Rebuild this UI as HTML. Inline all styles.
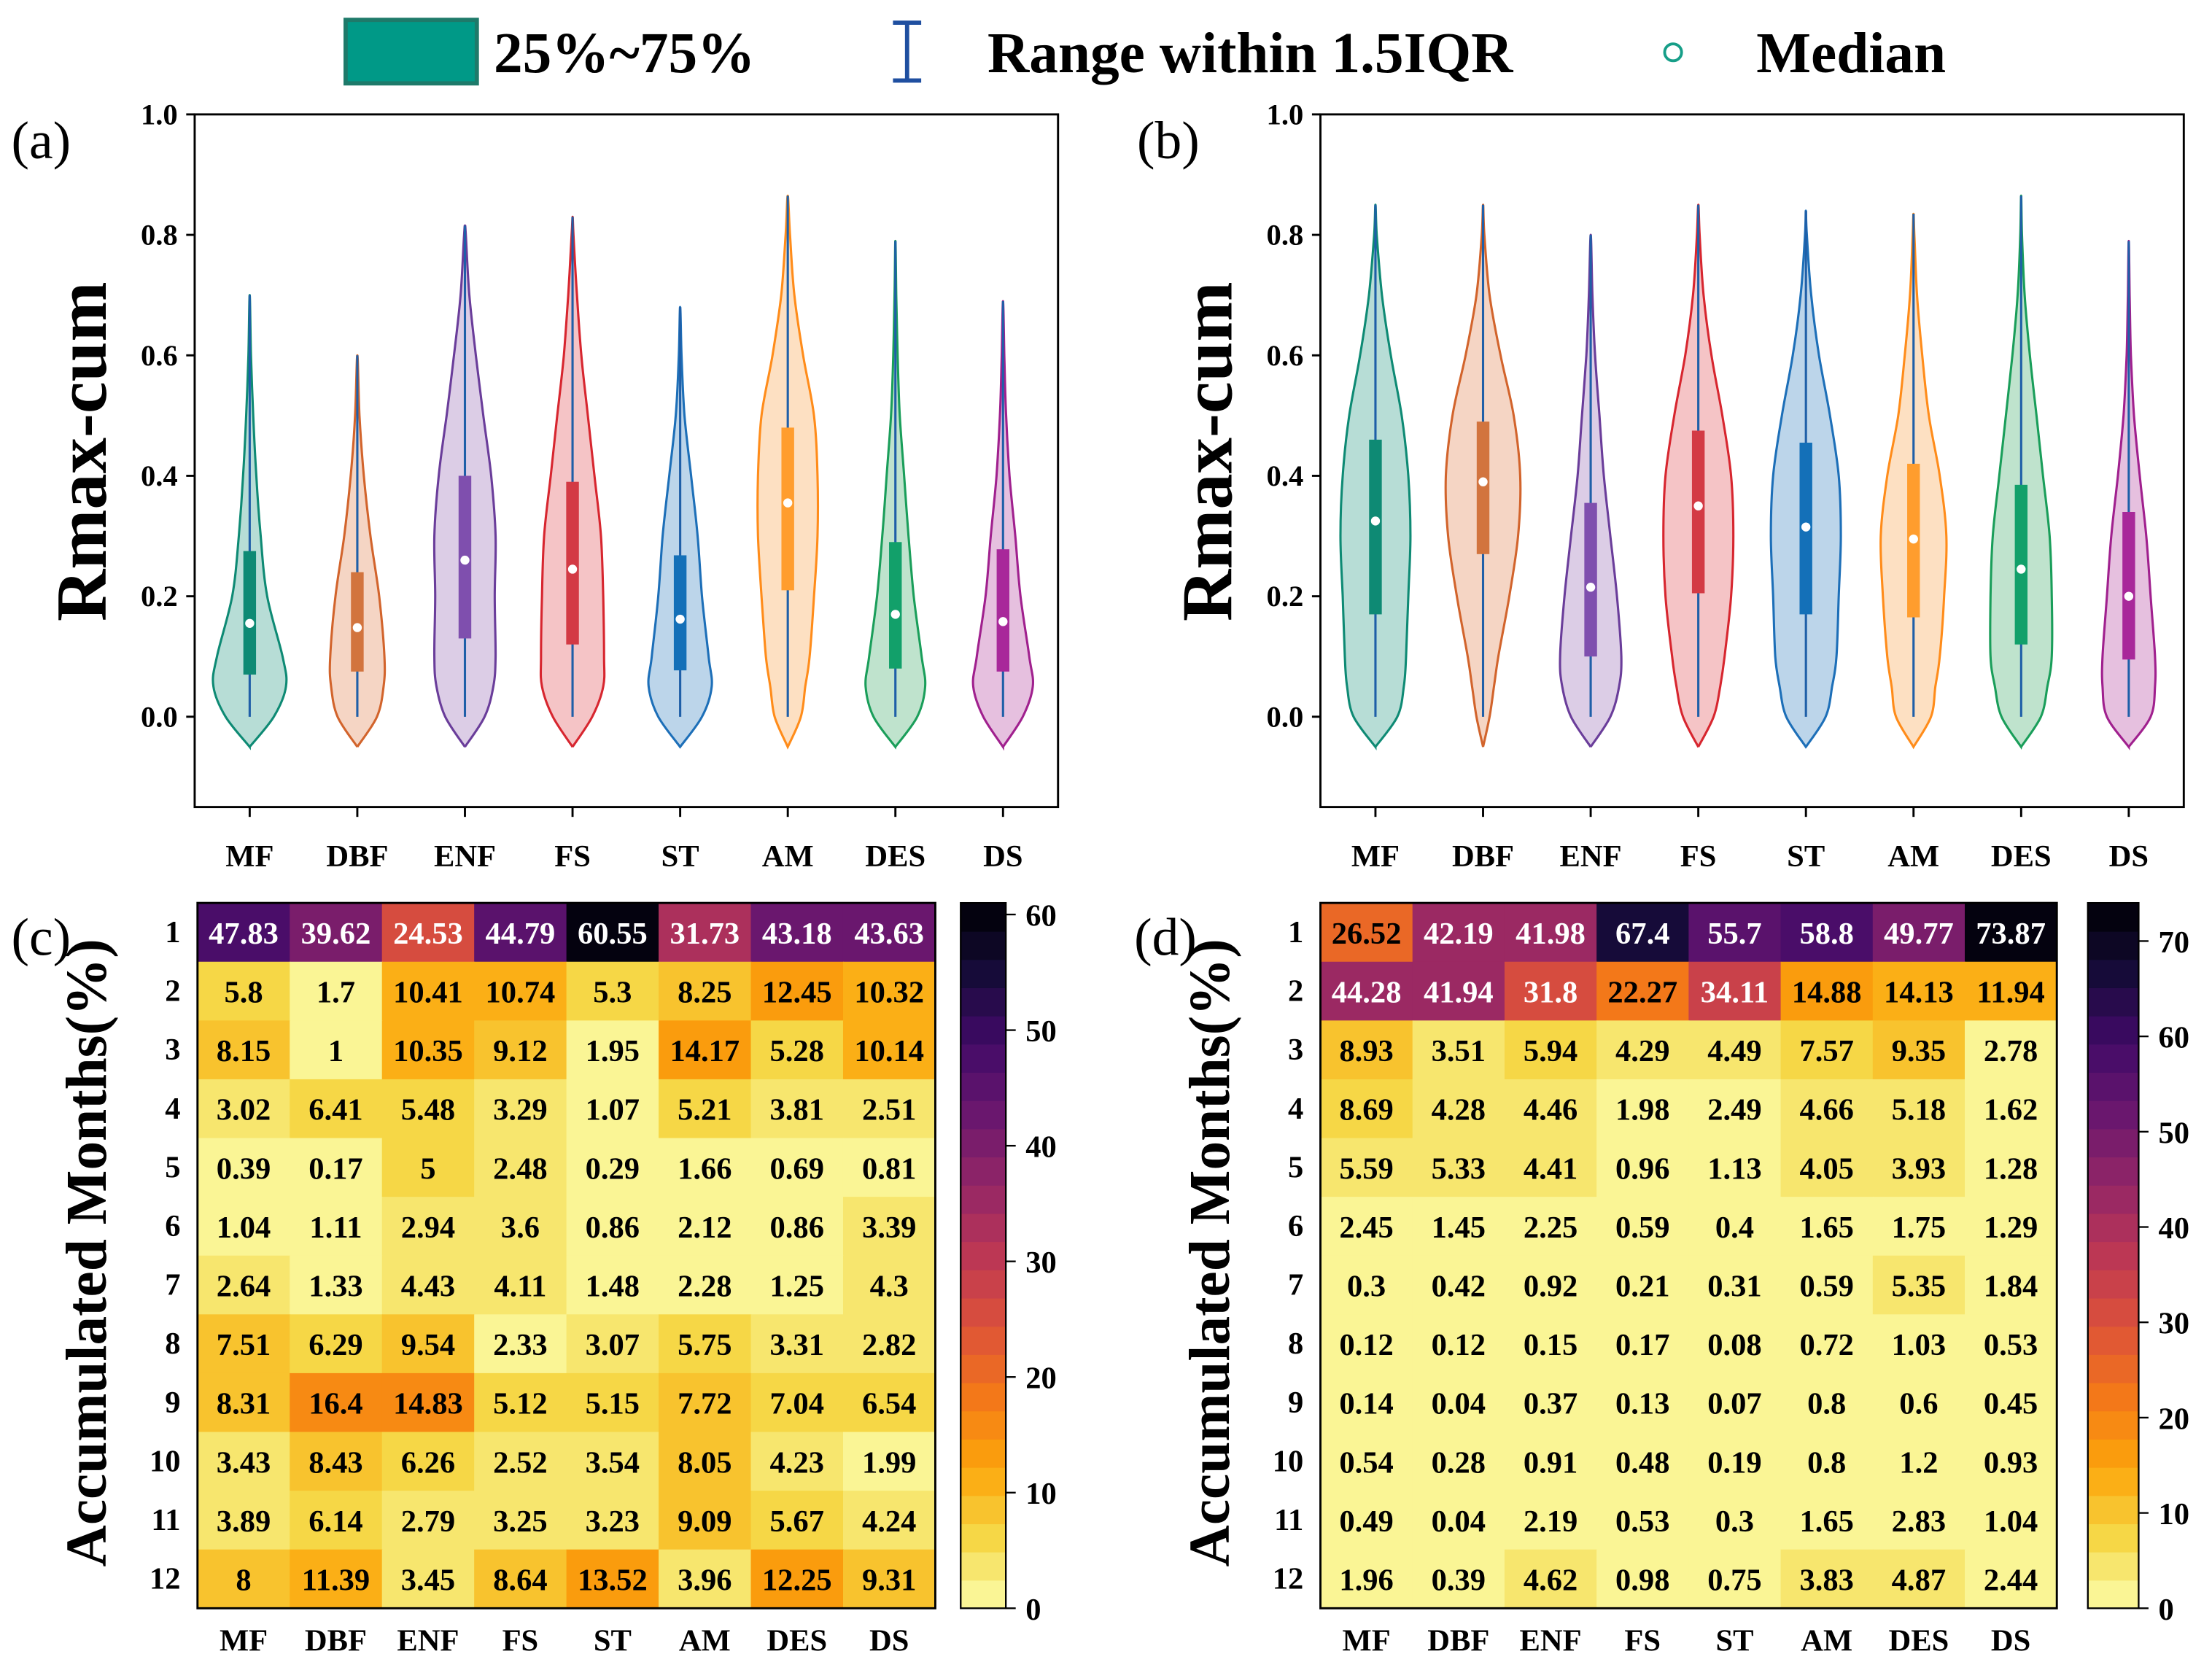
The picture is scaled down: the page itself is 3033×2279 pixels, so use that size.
<!DOCTYPE html>
<html><head><meta charset="utf-8"><style>
html,body{margin:0;padding:0;background:#fff;}
svg{display:block;font-family:"Liberation Serif","DejaVu Serif",serif;}
</style></head><body>
<svg id="fig" width="3033" height="2279" viewBox="0 0 1568 1178" xmlns="http://www.w3.org/2000/svg">
<g>
 <rect x="245" y="14" width="93" height="45" fill="#009987" stroke="#1e7a6a" stroke-width="3"/>
 <text x="350" y="51" font-size="41" font-weight="bold">25%~75%</text>
 <g stroke="#1f4fa0" stroke-width="3"><line x1="643" y1="16" x2="643" y2="57"/><line x1="633" y1="16" x2="653" y2="16"/><line x1="633" y1="57" x2="653" y2="57"/></g>
 <text x="700" y="51" font-size="41" font-weight="bold">Range within 1.5IQR</text>
 <circle cx="1186" cy="37" r="6" fill="#fff" stroke="#169e88" stroke-width="2"/>
 <text x="1245" y="51" font-size="41" font-weight="bold">Median</text>
</g>
<g id="root"></g>
</svg>
<script>
const categories=["MF","DBF","ENF","FS","ST","AM","DES","DS"];
const levels=[-0.05,0,0.05,0.1,0.2,0.3,0.4,0.5,0.6,0.7,0.8];
// panel (a)
const aDensity=[
[0,.55,.83,.75,.4,.25,.15,.08,.03,.01,0],
[0,.45,.6,.62,.5,.3,.15,.05,0,0,0],
[0,.45,.65,.7,.68,.7,.6,.42,.25,.1,.02],
[0,.45,.7,.72,.7,.65,.5,.35,.2,.1,.02],
[0,.5,.72,.65,.5,.4,.25,.1,.03,0,0],
[0,.3,.4,.5,.6,.68,.68,.6,.35,.15,.05],
[0,.5,.68,.6,.42,.3,.2,.1,.05,.02,.01],
[0,.45,.68,.6,.4,.28,.15,.07,.03,0,0]];
const aMax=[.70,.60,.815,.83,.68,.865,.79,.69];
const aQ1=[.07,.075,.13,.12,.077,.21,.08,.075];
const aMed=[.155,.148,.26,.245,.162,.355,.17,.158];
const aQ3=[.275,.24,.40,.39,.268,.48,.29,.278];
// panel (b)
const bDensity=[
[0,.5,.65,.7,.75,.8,.75,.6,.35,.15,.03],
[0,.15,.25,.35,.6,.8,.85,.7,.4,.15,.03],
[0,.45,.65,.7,.6,.45,.3,.2,.1,.04,.01],
[0,.35,.5,.6,.75,.8,.75,.55,.3,.12,.03],
[0,.45,.6,.7,.75,.8,.75,.55,.3,.12,.02],
[0,.4,.5,.6,.7,.75,.6,.35,.2,.08,.02],
[0,.45,.6,.7,.7,.65,.5,.35,.2,.08,.02],
[0,.5,.6,.6,.5,.4,.25,.12,.05,.02,0]];
const bMax=[.85,.85,.80,.85,.84,.835,.865,.79];
const bQ1=[.17,.27,.10,.205,.17,.165,.12,.095];
const bMed=[.325,.39,.215,.35,.315,.295,.245,.2];
const bQ3=[.46,.49,.355,.475,.455,.42,.385,.34];
const yTicks=[0,0.2,0.4,0.6,0.8,1.0];
// heatmaps
const months=[1,2,3,4,5,6,7,8,9,10,11,12];
const cValues=[
[47.83,39.62,24.53,44.79,60.55,31.73,43.18,43.63],
[5.8,1.7,10.41,10.74,5.3,8.25,12.45,10.32],
[8.15,1,10.35,9.12,1.95,14.17,5.28,10.14],
[3.02,6.41,5.48,3.29,1.07,5.21,3.81,2.51],
[0.39,0.17,5,2.48,0.29,1.66,0.69,0.81],
[1.04,1.11,2.94,3.6,0.86,2.12,0.86,3.39],
[2.64,1.33,4.43,4.11,1.48,2.28,1.25,4.3],
[7.51,6.29,9.54,2.33,3.07,5.75,3.31,2.82],
[8.31,16.4,14.83,5.12,5.15,7.72,7.04,6.54],
[3.43,8.43,6.26,2.52,3.54,8.05,4.23,1.99],
[3.89,6.14,2.79,3.25,3.23,9.09,5.67,4.24],
[8,11.39,3.45,8.64,13.52,3.96,12.25,9.31]];
const dValues=[
[26.52,42.19,41.98,67.4,55.7,58.8,49.77,73.87],
[44.28,41.94,31.8,22.27,34.11,14.88,14.13,11.94],
[8.93,3.51,5.94,4.29,4.49,7.57,9.35,2.78],
[8.69,4.28,4.46,1.98,2.49,4.66,5.18,1.62],
[5.59,5.33,4.41,0.96,1.13,4.05,3.93,1.28],
[2.45,1.45,2.25,0.59,0.4,1.65,1.75,1.29],
[0.3,0.42,0.92,0.21,0.31,0.59,5.35,1.84],
[0.12,0.12,0.15,0.17,0.08,0.72,1.03,0.53],
[0.14,0.04,0.37,0.13,0.07,0.8,0.6,0.45],
[0.54,0.28,0.91,0.48,0.19,0.8,1.2,0.93],
[0.49,0.04,2.19,0.53,0.3,1.65,2.83,1.04],
[1.96,0.39,4.62,0.98,0.75,3.83,4.87,2.44]];
const cTicks=[0,10,20,30,40,50,60];
const dTicks=[0,10,20,30,40,50,60,70];

const edgeCol=["#0e8a74","#d2642c","#6a3d9a","#d7262f","#1d6fb8","#ff8c1a","#1a9e5a","#a0208e"];
const fillCol=["#b7ddd6","#f5d5c4","#dccde6","#f5c4c6","#bcd5ea","#fde0c2","#bfe3cd","#e6c0df"];
const boxCol=["#0e8a74","#d2743e","#7f4fae","#d33a44","#1470b8","#ff9d2e","#12a06a","#a8289a"];

const NS="http://www.w3.org/2000/svg";
const root=document.getElementById('root');
function mk(tag,attrs,parent){const e=document.createElementNS(NS,tag);for(const k in attrs)e.setAttribute(k,attrs[k]);(parent||root).appendChild(e);return e;}
function txt(s,attrs,parent){const e=mk('text',attrs,parent);e.textContent=s;return e;}

const infernoStops=[[0,[0,0,4]],[.1,[22,11,57]],[.2,[66,10,104]],[.3,[106,23,110]],[.4,[147,38,103]],[.5,[188,55,84]],[.6,[221,81,58]],[.7,[243,120,25]],[.8,[252,165,10]],[.9,[246,215,70]],[.96,[248,238,130]],[1,[252,252,168]]];
function inferno(t){t=Math.max(0,Math.min(1,t));for(let i=1;i<infernoStops.length;i++){if(t<=infernoStops[i][0]){const a=infernoStops[i-1],b=infernoStops[i];const f=(t-a[0])/(b[0]-a[0]);const c=a[1].map((v,j)=>Math.round(v+(b[1][j]-v)*f));return `rgb(${c[0]},${c[1]},${c[2]})`;}}return 'rgb(252,252,168)';}
function heatColor(v,vmax){const n=25;const k=Math.min(n-1,Math.floor(v/vmax*n));return inferno(1-(k+0.5)/n);}

function smoothPath(pts){let d=`M${pts[0][0]},${pts[0][1]}`;for(let i=0;i<pts.length-1;i++){const p0=pts[Math.max(0,i-1)],p1=pts[i],p2=pts[i+1],p3=pts[Math.min(pts.length-1,i+2)];const c1=[p1[0]+(p2[0]-p0[0])/6,p1[1]+(p2[1]-p0[1])/6],c2=[p2[0]-(p3[0]-p1[0])/6,p2[1]-(p3[1]-p1[1])/6];d+=`C${c1[0].toFixed(1)},${c1[1].toFixed(1)} ${c2[0].toFixed(1)},${c2[1].toFixed(1)} ${p2[0].toFixed(1)},${p2[1].toFixed(1)}`;}return d;}

function violinPanel(id,x0,x1,letter,dens,mx,q1,med,q3){
 const y0=81,y1=572;const ys=v=>508-v*427;
 const g=mk('g',{});
 const xs=i=>x0+39+i*((x1-x0-78)/7);
 txt('('+letter+')',{x:x0-130,y:112,'font-size':38,},g);
 mk('rect',{x:x0,y:y0,width:x1-x0,height:y1-y0,fill:'none',stroke:'#000','stroke-width':1.5,},g);
 yTicks.forEach(t=>{mk('line',{x1:x0-6,x2:x0,y1:ys(t),y2:ys(t),stroke:'#000','stroke-width':1.5},g);
  txt(t.toFixed(1),{x:x0-12,y:ys(t)+7,'font-size':21,'font-weight':'bold','text-anchor':'end',},g);});
 txt('Rmax-cum',{x:0,y:0,'font-size':51,'font-weight':'bold','text-anchor':'middle',transform:`translate(${x0-63},320) rotate(-90)`,},g);
 categories.forEach((c,i)=>{const cx=xs(i);
  mk('line',{x1:cx,x2:cx,y1:y1,y2:y1+7,stroke:'#000','stroke-width':1.5},g);
  txt(c,{x:cx,y:y1+42,'font-size':22,'font-weight':'bold','text-anchor':'middle',},g);
  const vg=mk('g',{},g);
  
  
  const right=[];levels.forEach((L,j)=>{if(L<mx[i])right.push([cx+dens[i][j]*31,ys(L)]);});right.push([cx,ys(mx[i])]);
  const left=right.map(p=>[2*cx-p[0],p[1]]).reverse();
  const all=right.concat(left.slice(1));
  mk('path',{d:smoothPath(all)+'Z',fill:fillCol[i],stroke:edgeCol[i],'stroke-width':1.6},vg);
  mk('line',{x1:cx,x2:cx,y1:ys(0),y2:ys(mx[i]),stroke:'#1f5fa8','stroke-width':1.6},vg);
  const b=mk('rect',{x:cx-4.5,y:ys(q3[i]),width:9,height:ys(q1[i])-ys(q3[i]),fill:boxCol[i]},vg);
  
  
  const m=mk('circle',{cx:cx,cy:ys(med[i]),r:3.2,fill:'#fff'},vg);
  
  
 });
}
violinPanel('a',138,750,'a',aDensity,aMax,aQ1,aMed,aQ3);
violinPanel('b',936,1548,'b',bDensity,bMax,bQ1,bMed,bQ3);

function heatPanel(id,gx0,gx1,cbx0,cbx1,letter,vals,vmax,ticks){
 const gy0=640,gy1=1140;const cw=(gx1-gx0)/8,ch=(gy1-gy0)/12;
 const g=mk('g',{});
 txt('('+letter+')',{x:gx0-132,y:677,'font-size':38,},g);
 txt('Accumulated Months(%)',{x:0,y:0,'font-size':41,'font-weight':'bold','text-anchor':'middle',transform:`translate(${gx0-65},888) rotate(-90)`,},g);
 vals.forEach((row,r)=>{
  txt(String(months[r]),{x:gx0-12,y:gy0+ch*(r+0.5)+7,'font-size':22,'font-weight':'bold','text-anchor':'end',},g);
  row.forEach((v,c)=>{
   const cell=mk('rect',{x:gx0+c*cw,y:gy0+r*ch,width:cw+0.5,height:ch+0.5,fill:heatColor(v,vmax)},g);
   
   
   const t=txt(String(v),{x:gx0+(c+0.5)*cw,y:gy0+(r+0.5)*ch+8,'font-size':22,'font-weight':'bold','text-anchor':'middle',fill:(v/vmax>0.38?'#fff':'#000')},g);
   
   
  });});
 mk('rect',{x:gx0,y:gy0,width:gx1-gx0,height:gy1-gy0,fill:'none',stroke:'#000','stroke-width':1.5},g);
 categories.forEach((c,i)=>{txt(c,{x:gx0+(i+0.5)*cw,y:1170,'font-size':22,'font-weight':'bold','text-anchor':'middle',},g);});
 const cb=mk('g',{},g);
 const n=25,sh=(gy1-gy0)/n;
 for(let k=0;k<n;k++){mk('rect',{x:cbx0,y:gy1-(k+1)*sh,width:cbx1-cbx0,height:sh+0.4,fill:inferno(1-(k+0.5)/n)},cb);}
 mk('rect',{x:cbx0,y:gy0,width:cbx1-cbx0,height:gy1-gy0,fill:'none',stroke:'#000','stroke-width':1.2},cb);
 ticks.forEach(t=>{const y=gy1-t/vmax*(gy1-gy0);mk('line',{x1:cbx1,x2:cbx1+7,y1:y,y2:y,stroke:'#000','stroke-width':1.2},cb);
  txt(String(t),{x:cbx1+14,y:y+8,'font-size':22,'font-weight':'bold',},cb);});
}
heatPanel('c',140,663,681,713,'c',cValues,61,cTicks);
heatPanel('d',936,1458,1480,1516,'d',dValues,74,dTicks);
</script>
</body></html>
